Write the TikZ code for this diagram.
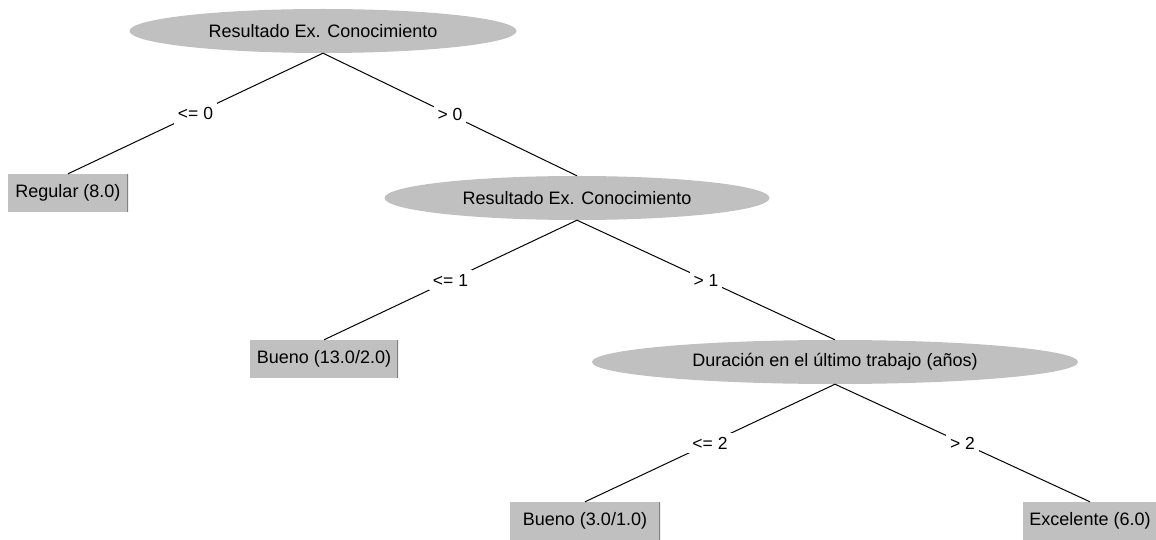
\documentclass[tikz,border=0pt]{standalone}
\usepackage{fontspec}
\setmainfont{Liberation Sans}
\usetikzlibrary{shapes.geometric}

\definecolor{silverbg}{RGB}{192,192,192}
\definecolor{boxedge}{RGB}{128,128,128}

\begin{document}
\begin{tikzpicture}[x=1pt, y=-1pt, font=\fontsize{18}{21}\selectfont,
    test/.style={ellipse, fill=silverbg, inner sep=0pt, minimum height=44pt},
    leaf/.style={rectangle, fill=silverbg, inner sep=0pt, minimum height=38pt,
        path picture={\draw[boxedge, line width=2pt]
            (path picture bounding box.north east) --
            (path picture bounding box.south east);}},
    branch/.style={draw=black, line width=1pt},
    cond/.style={fill=white, inner sep=4pt, font=\fontsize{17.5}{20}\selectfont}]

    \useasboundingbox (0,0) rectangle (1156,540);

    % TEST NODES
    \node[test, minimum width=387pt] (root) at (323,31) {Resultado Ex. Conocimiento};
    \node[test, minimum width=385pt] (know) at (577,198) {Resultado Ex. Conocimiento};
    \node[test, minimum width=486pt] (dur) at (835,362) {Duración en el último trabajo (años)};

    % LEAF NODES
    \node[leaf, minimum width=120pt] (regular) at (68,193) {Regular (8.0)};
    \node[leaf, minimum width=148pt] (buenoA) at (324,359) {Bueno (13.0/2.0)};
    \node[leaf, minimum width=150pt] (buenoB) at (585,521) {Bueno (3.0/1.0)};
    \node[leaf, minimum width=134pt] (excel) at (1090,521) {Excelente (6.0)};

    % BRANCHES
    \draw[branch] (root.south) -- node[cond] {<= 0} (regular.north);
    \draw[branch] (root.south) -- node[cond] {> 0} (know.north);

    \draw[branch] (know.south) -- node[cond] {<= 1} (buenoA.north);
    \draw[branch] (know.south) -- node[cond] {> 1} (dur.north);

    \draw[branch] (dur.south) -- node[cond] {<= 2} (buenoB.north);
    \draw[branch] (dur.south) -- node[cond] {> 2} (excel.north);

\end{tikzpicture}
\end{document}
